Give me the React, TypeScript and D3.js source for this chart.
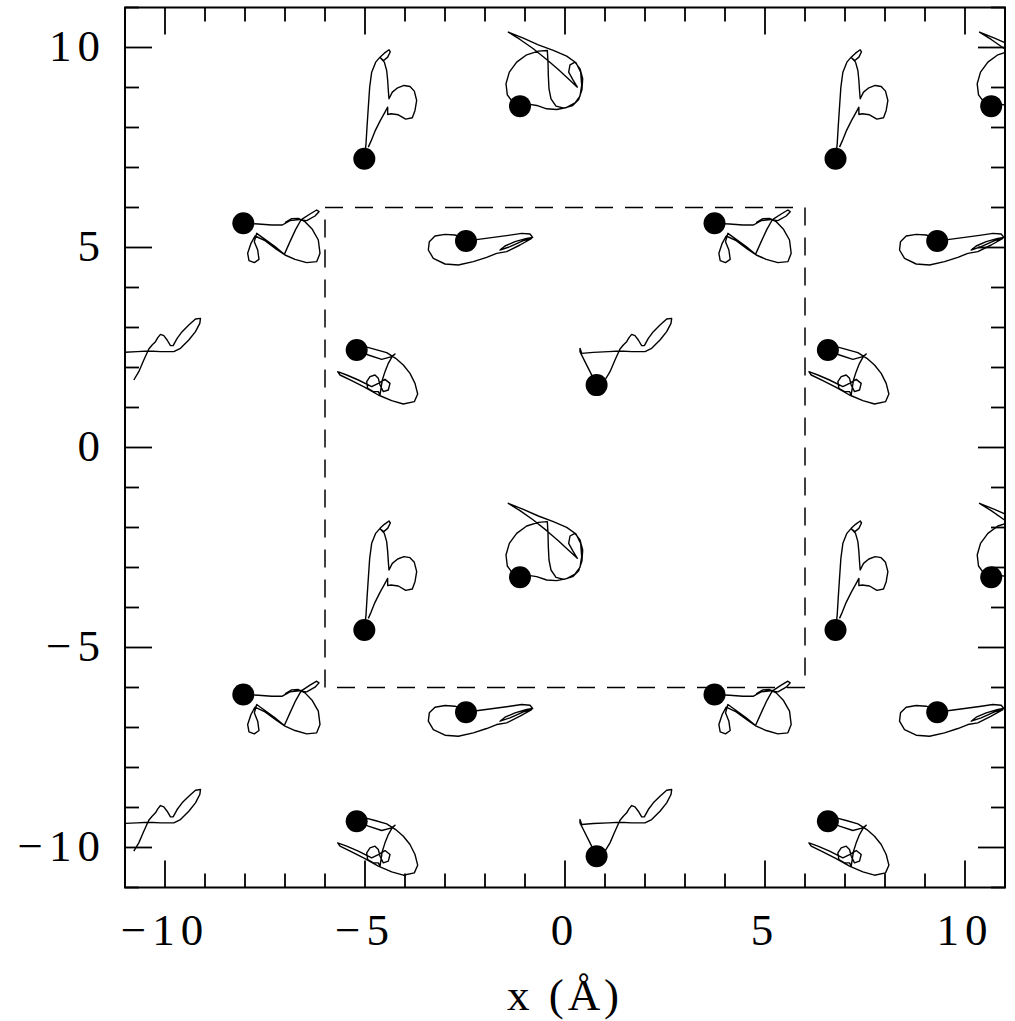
import React from 'react';
import * as d3 from 'd3';

type P = [number, number];

// Periodic box length (Å) used for image copies
const BOX = 11.78;
const imageShifts = [-1, 0, 1];

const majorTicks = [-10, -5, 0, 5, 10];
const minorTicks = d3.range(-11, 12, 1);
const tickLabels = ['\u221210', '\u22125', '0', '5', '10'];
const xTitle = 'x (\u00C5)';
const dashedBox = [-6, 6];

// Trajectories (central image), first point = starting atom position
const trajA: P[] = [
  [0.79, 1.56], [0.625, 1.896], [0.458, 2.229], [0.375, 2.396], [0.375, 2.479], [0.417, 2.354],
  [0.708, 2.379], [1.083, 2.396], [1.375, 2.4125], [1.667, 2.396], [2.0, 2.396], [2.167, 2.479],
  [2.375, 2.6875], [2.542, 2.896], [2.65, 3.104], [2.667, 3.229], [2.542, 3.2125], [2.375, 3.0625],
  [2.208, 2.896], [2.083, 2.729], [1.983, 2.546], [1.917, 2.546], [1.833, 2.6875], [1.75, 2.796],
  [1.667, 2.829], [1.6, 2.746], [1.542, 2.646], [1.458, 2.5625], [1.375, 2.4625], [1.25, 2.1875],
  [1.125, 1.896], [1.0, 1.6875],
];

const trajB: P[] = [
  [-5.017, -4.5625], [-4.975, -4.1875], [-4.95, -3.771], [-4.917, -3.271], [-4.883, -2.771],
  [-4.833, -2.396], [-4.733, -2.146], [-4.625, -2.021], [-4.517, -1.921], [-4.4, -1.8375],
  [-4.367, -1.8875], [-4.433, -2.021], [-4.533, -2.104], [-4.617, -2.0375], [-4.517, -2.146],
  [-4.458, -2.354], [-4.433, -2.604], [-4.417, -2.854], [-4.4, -3.0625], [-4.317, -2.896],
  [-4.183, -2.7875], [-4.025, -2.729], [-3.875, -2.754], [-3.767, -2.871], [-3.708, -3.104],
  [-3.75, -3.354], [-3.817, -3.5375], [-3.983, -3.571], [-4.167, -3.4625], [-4.35, -3.4375],
  [-4.433, -3.454], [-4.433, -3.271], [-4.5, -3.396], [-4.625, -3.621], [-4.75, -3.871],
  [-4.85, -4.121], [-4.917, -4.271],
];

const trajC: P[] = [
  [-1.125, -3.246], [-1.308, -3.146], [-1.442, -2.9625], [-1.475, -2.6875], [-1.392, -2.396],
  [-1.208, -2.146], [-0.958, -1.9625], [-0.667, -1.871], [-0.442, -1.854], [-0.425, -2.146],
  [-0.417, -2.479], [-0.4, -2.8125], [-0.35, -3.0625], [-0.225, -3.246], [-0.025, -3.296],
  [0.192, -3.229], [0.342, -3.079], [0.425, -2.829], [0.442, -2.5625], [0.375, -2.3125],
  [0.25, -2.146], [0.125, -2.2125], [0.092, -2.396], [0.192, -2.579], [0.308, -2.771],
  [0.083, -2.5625], [-0.167, -2.329], [-0.458, -2.079], [-0.792, -1.8125], [-1.125, -1.579],
  [-1.417, -1.396], [-1.042, -1.546], [-0.667, -1.7125], [-0.292, -1.854], [0.042, -1.996],
  [0.275, -2.1625], [0.392, -2.396], [0.417, -2.729], [0.375, -2.996], [0.25, -3.1625],
  [0.042, -3.279], [-0.208, -3.329], [-0.458, -3.3125], [-0.708, -3.229], [-0.917, -3.196],
];

const trajD: P[] = [
  [-2.475, 5.1625], [-2.167, 5.204], [-1.792, 5.254], [-1.417, 5.304], [-1.083, 5.354],
  [-0.875, 5.3375], [-0.808, 5.254], [-0.958, 5.229], [-1.25, 5.146], [-1.5, 5.0375],
  [-1.625, 4.9375], [-1.375, 5.021], [-1.042, 5.171], [-0.833, 5.229], [-1.125, 5.0625],
  [-1.458, 4.896], [-1.708, 4.854], [-1.958, 4.754], [-2.292, 4.646], [-2.667, 4.5625],
  [-3.0, 4.5875], [-3.292, 4.729], [-3.417, 4.9375], [-3.392, 5.146], [-3.25, 5.2875],
  [-3.0, 5.329], [-2.75, 5.3125], [-2.583, 5.254],
];

const trajE: P[] = [
  [-5.208, 2.4375], [-4.917, 2.3125], [-4.583, 2.204], [-4.333, 2.271], [-4.25, 2.3375],
  [-4.333, 2.254], [-4.417, 2.104], [-4.5, 1.896], [-4.567, 1.6875], [-4.6, 1.479],
  [-4.625, 1.3125], [-4.667, 1.396], [-4.792, 1.396], [-4.933, 1.479], [-4.958, 1.646],
  [-4.875, 1.771], [-4.75, 1.8125], [-4.667, 1.729], [-4.625, 1.5625], [-4.542, 1.396],
  [-4.417, 1.4375], [-4.375, 1.604], [-4.5, 1.7042], [-4.667, 1.604], [-4.833, 1.521],
  [-5.167, 1.6875], [-5.458, 1.8125], [-5.683, 1.896], [-5.625, 1.8125], [-5.333, 1.671],
  [-5.0, 1.504], [-4.667, 1.3125], [-4.333, 1.171], [-4.042, 1.0875], [-3.767, 1.146],
  [-3.683, 1.3375], [-3.75, 1.604], [-3.875, 1.854], [-4.042, 2.0625], [-4.233, 2.229],
  [-4.458, 2.371], [-4.75, 2.454], [-5.0, 2.521],
];

const trajF: P[] = [
  [-8.042, 5.604], [-7.667, 5.5875], [-7.333, 5.5625], [-7.067, 5.5625], [-6.875, 5.671],
  [-6.583, 5.704], [-6.375, 5.8375], [-6.208, 5.9375], [-6.15, 5.896], [-6.25, 5.7875],
  [-6.458, 5.671], [-6.6, 5.6875], [-6.733, 5.454], [-6.875, 5.146], [-7.017, 4.829],
  [-7.25, 5.021], [-7.5, 5.204], [-7.708, 5.354], [-7.767, 5.146], [-7.683, 4.9375],
  [-7.65, 4.704], [-7.767, 4.621], [-7.9, 4.671], [-7.933, 4.854], [-7.85, 5.104],
  [-7.75, 5.2875], [-7.5, 5.171], [-7.208, 4.954], [-7.0, 4.8125], [-6.75, 4.704],
  [-6.458, 4.621], [-6.208, 4.646], [-6.125, 4.854], [-6.167, 5.1875], [-6.317, 5.454],
  [-6.5, 5.646], [-6.667, 5.729], [-6.833, 5.721], [-7.0, 5.621],
];

const trajectories: P[][] = [trajA, trajB, trajC, trajD, trajE, trajF];

export default function App() {
  const W = 1015;
  const H = 1021;
  const x = d3.scaleLinear().domain([-11, 11]).range([125, 1005]);
  const y = d3.scaleLinear().domain([-11, 11]).range([887.5, 7.5]);
  const line = d3.line<P>().x((d) => x(d[0])).y((d) => y(d[1]));
  const majorLen = 27;
  const minorLen = 14;
  const dotR = 11;
  const font = "'Liberation Serif', 'DejaVu Serif', serif";

  const copies: { pts: P[]; key: string }[] = [];
  trajectories.forEach((t, ti) => {
    imageShifts.forEach((sx) => {
      imageShifts.forEach((sy) => {
        const pts = t.map((p) => [p[0] + sx * BOX, p[1] + sy * BOX] as P);
        copies.push({ pts, key: `${ti}-${sx}-${sy}` });
      });
    });
  });

  const [x0, x1] = x.range();
  const [yb, yt] = y.range();

  return (
    <svg width={W} height={H} style={{ position: 'absolute', left: 0, top: 0, background: '#fff' }}>
      <defs>
        <clipPath id="plotClip">
          <rect x={x0} y={yt} width={x1 - x0} height={yb - yt} />
        </clipPath>
      </defs>
      <rect x={0} y={0} width={W} height={H} fill="#fff" />
      <g clipPath="url(#plotClip)">
        {copies.map((c) => (
          <path key={c.key} d={line(c.pts) || ''} fill="none" stroke="#000" strokeWidth={1.4} strokeLinejoin="round" />
        ))}
        {copies.map((c) => {
          const p = c.pts[0];
          const cx = x(p[0]);
          const cy = y(p[1]);
          const inside = cx - dotR >= x0 && cx + dotR <= x1 && cy - dotR >= yt && cy + dotR <= yb;
          return inside ? <circle key={'d' + c.key} cx={cx} cy={cy} r={dotR} fill="#000" /> : null;
        })}
      </g>
      {/* dashed simulation box */}
      <rect
        x={x(dashedBox[0])}
        y={y(dashedBox[1])}
        width={x(dashedBox[1]) - x(dashedBox[0])}
        height={y(dashedBox[0]) - y(dashedBox[1])}
        fill="none"
        stroke="#000"
        strokeWidth={1.5}
        strokeDasharray="18 12"
      />
      {/* frame */}
      <rect x={x0} y={yt} width={x1 - x0} height={yb - yt} fill="none" stroke="#000" strokeWidth={2} />
      {/* ticks */}
      {minorTicks.map((t) => {
        const len = majorTicks.includes(t) ? majorLen : minorLen;
        return (
          <g key={'t' + t} stroke="#000" strokeWidth={1.8}>
            <line x1={x(t)} x2={x(t)} y1={yb} y2={yb - len} />
            <line x1={x(t)} x2={x(t)} y1={yt} y2={yt + len} />
            <line y1={y(t)} y2={y(t)} x1={x0} x2={x0 + len} />
            <line y1={y(t)} y2={y(t)} x1={x1} x2={x1 - len} />
          </g>
        );
      })}
      {/* tick labels */}
      {majorTicks.map((t, i) => (
        <text
          key={'xl' + t}
          x={x(t)}
          y={945}
          textAnchor="middle"
          fontFamily={font}
          fontSize={45}
          letterSpacing={6}
          fill="#000"
        >
          {tickLabels[i]}
        </text>
      ))}
      {majorTicks.map((t, i) => (
        <text
          key={'yl' + t}
          x={106}
          y={y(t) + 13}
          textAnchor="end"
          fontFamily={font}
          fontSize={45}
          letterSpacing={6}
          fill="#000"
        >
          {tickLabels[i]}
        </text>
      ))}
      <text x={565} y={1010} textAnchor="middle" fontFamily={font} fontSize={45} letterSpacing={4} fill="#000">
        {xTitle}
      </text>
    </svg>
  );
}
